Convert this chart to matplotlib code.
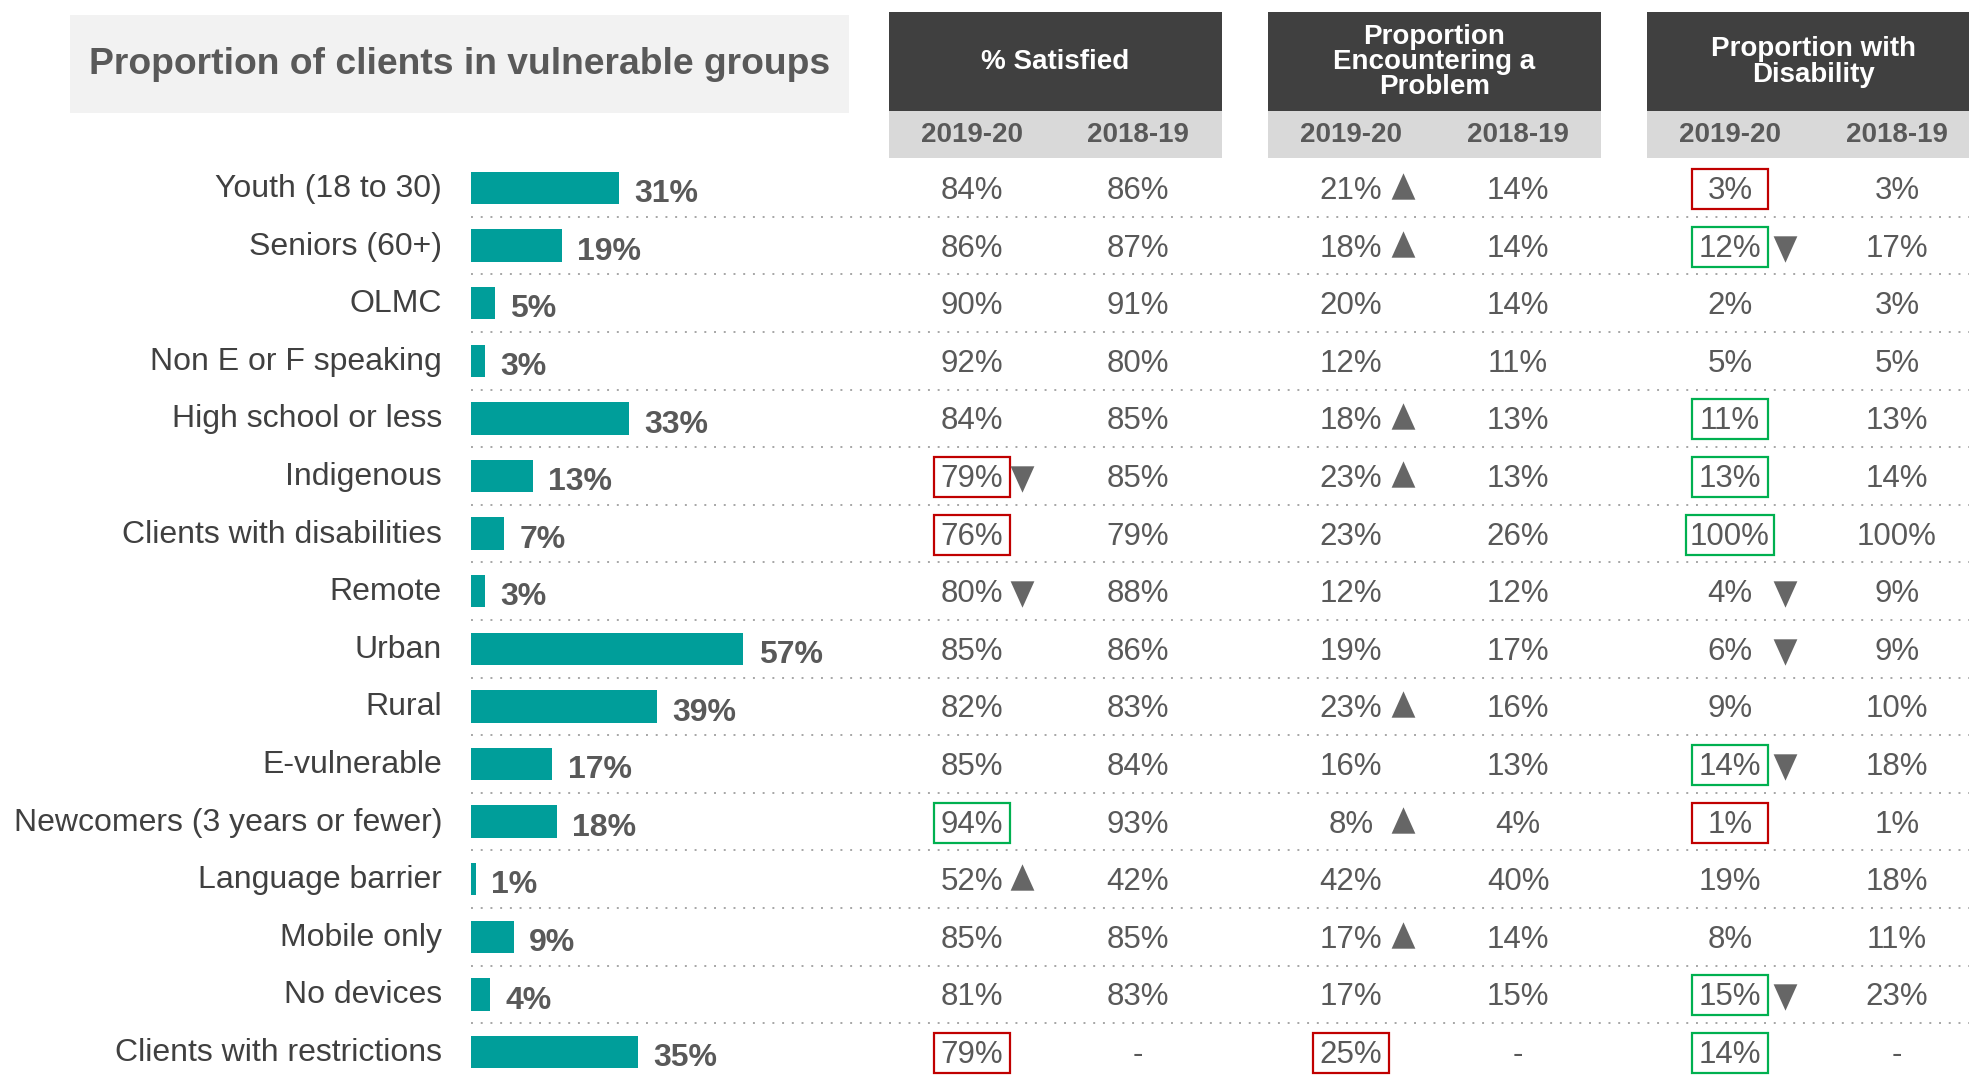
import matplotlib.pyplot as plt
from matplotlib.patches import Rectangle

plt.rcParams['font.family'] = ['Liberation Sans', 'DejaVu Sans']

groups = ['Youth (18 to 30)', 'Seniors (60+)', 'OLMC', 'Non E or F speaking',
          'High school or less', 'Indigenous', 'Clients with disabilities', 'Remote',
          'Urban', 'Rural', 'E-vulnerable', 'Newcomers (3 years or fewer)',
          'Language barrier', 'Mobile only', 'No devices', 'Clients with restrictions']
share = [31, 19, 5, 3, 33, 13, 7, 3, 57, 39, 17, 18, 1, 9, 4, 35]

sat_2020 = [84, 86, 90, 92, 84, 79, 76, 80, 85, 82, 85, 94, 52, 85, 81, 79]
sat_2019 = [86, 87, 91, 80, 85, 85, 79, 88, 86, 83, 84, 93, 42, 85, 83, None]
prob_2020 = [21, 18, 20, 12, 18, 23, 23, 12, 19, 23, 16, 8, 42, 17, 17, 25]
prob_2019 = [14, 14, 14, 11, 13, 13, 26, 12, 17, 16, 13, 4, 40, 14, 15, None]
dis_2020 = [3, 12, 2, 5, 11, 13, 100, 4, 6, 9, 14, 1, 19, 8, 15, 14]
dis_2019 = [3, 17, 3, 5, 13, 14, 100, 9, 9, 10, 18, 1, 18, 11, 23, None]

# significant change vs previous year
sat_trend = ['', '', '', '', '', 'down', '', 'down', '', '', '', '', 'up', '', '', '']
prob_trend = ['up', 'up', '', '', 'up', 'up', '', '', '', 'up', '', 'up', '', 'up', '', '']
dis_trend = ['', 'down', '', '', '', '', '', 'down', 'down', '', 'down', '', '', '', 'down', '']

# highlighted cells: r = below average, g = above average
sat_flag = ['', '', '', '', '', 'r', 'r', '', '', '', '', 'g', '', '', '', 'r']
prob_flag = [''] * 15 + ['r']
dis_flag = ['r', 'g', '', '', 'g', 'g', 'g', '', '', '', 'g', 'r', '', '', 'g', 'g']

headers = ['% Satisfied', 'Proportion\nEncountering a\nProblem', 'Proportion with\nDisability']
years = ['2019-20', '2018-19']
title = 'Proportion of clients in vulnerable groups'

W, H = 1969, 1077
TEAL = '#009E9A'
TXT = '#595959'
DARK = '#404040'
LIGHT = '#D9D9D9'
TRI = '#666666'
FLAG = {'r': '#C00000', 'g': '#00B050'}

ROW0, ROW_H = 188, 57.6
n = len(groups)
row_y = [ROW0 + i * ROW_H for i in range(n)]

fig = plt.figure(figsize=(W / 100, H / 100), dpi=100)
ax = fig.add_axes([0, 0, 1, 1])
ax.set_xlim(0, W)
ax.set_ylim(H, 0)
ax.axis('off')

# title block
ax.add_patch(Rectangle((70, 15), 779, 98, color='#F2F2F2', lw=0))
ax.text(460, 65, title, ha='center', va='center', fontsize=26.8,
        fontweight='bold', color=TXT)

# column headers
HDR_W = 333
hdr_x0 = [889, 1268, 1647]
col_x = [972, 1138, 1351, 1518, 1730, 1897]
tri_x = [1022, 1403, 1785]
for k, (x0, label) in enumerate(zip(hdr_x0, headers)):
    ax.add_patch(Rectangle((x0, 12), HDR_W, 99, color=DARK, lw=0))
    ax.add_patch(Rectangle((x0, 111), HDR_W, 47, color=LIGHT, lw=0))
    ax.text(x0 + HDR_W / 2, 62, label, ha='center', va='center', fontsize=20,
            fontweight='bold', color='white', linespacing=0.95)
    for j, yr in enumerate(years):
        ax.text(col_x[2 * k + j], 135, yr, ha='center', va='center', fontsize=20,
                fontweight='bold', color=TXT)

# row separators
for i in range(n - 1):
    y = ROW0 + (i + 0.5) * ROW_H
    ax.plot([471, W], [y, y], ls=(0, (1, 4)), lw=1.4, color='#A6A6A6')

# group names
for y, name in zip(row_y, groups):
    ax.text(442, y + 1, name, ha='right', va='center', fontsize=23, color=DARK)

# bars
px_per_pct = 4.78
ax_bar = fig.add_axes([471 / W, 1 - (ROW0 + (n - 0.5) * ROW_H) / H,
                       100 * px_per_pct / W, n * ROW_H / H])
ax_bar.set_xlim(0, 100)
ax_bar.set_ylim(n - 0.5, -0.5)
ax_bar.axis('off')
ax_bar.barh(range(n), share, height=0.56, color=TEAL)
for i, v in enumerate(share):
    ax_bar.annotate(f'{v}%', (v, i), xytext=(11, -4.5), textcoords='offset points',
                    ha='left', va='center', fontsize=23, fontweight='bold', color=TXT)

up_tri = [(-0.9, -1), (0.9, -1), (0, 1), (-0.9, -1)]
down_tri = [(-0.9, 1), (0.9, 1), (0, -1), (-0.9, 1)]

columns = [(sat_2020, sat_2019, sat_trend, sat_flag),
           (prob_2020, prob_2019, prob_trend, prob_flag),
           (dis_2020, dis_2019, dis_trend, dis_flag)]
for k, (cur, prev, trend, flag) in enumerate(columns):
    for i in range(n):
        y = row_y[i]
        cur_txt = f'{cur[i]}%'
        prev_txt = '-' if prev[i] is None else f'{prev[i]}%'
        ax.text(col_x[2 * k], y + 3, cur_txt, ha='center', va='center', fontsize=22.5, color=TXT)
        ax.text(col_x[2 * k + 1], y + 3, prev_txt, ha='center', va='center', fontsize=22.5, color=TXT)
        if flag[i]:
            bw = 76 if len(cur_txt) <= 3 else 88
            ax.add_patch(Rectangle((col_x[2 * k] - bw / 2, y - 19), bw, 40, fill=False,
                                   edgecolor=FLAG[flag[i]], lw=1.6))
        if trend[i] == 'up':
            ax.plot(tri_x[k], y - 2, marker=up_tri, markersize=19, color=TRI, mew=0)
        elif trend[i] == 'down':
            ax.plot(tri_x[k], y + 3, marker=down_tri, markersize=19, color=TRI, mew=0)

fig.savefig('out.png', dpi=100)
